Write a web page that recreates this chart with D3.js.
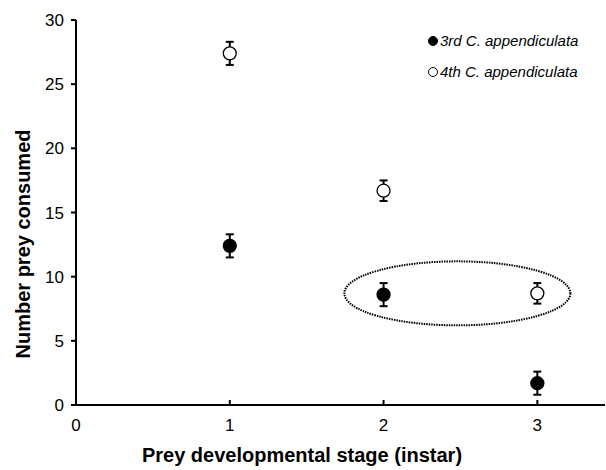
<!DOCTYPE html>
<html>
<head>
<meta charset="utf-8">
<script src="https://cdn.jsdelivr.net/npm/d3@7"></script>
<style>
  body { margin: 0; background: #fff; }
  text { font-family: "Liberation Sans", Arial, sans-serif; }
</style>
</head>
<body>
<svg id="chart" width="606" height="470"></svg>
<script>
// Data
const stages = [1, 2, 3];
const third = [12.4, 8.6, 1.7];
const thirdErr = [0.9, 0.9, 0.9];
const fourth = [27.4, 16.7, 8.7];
const fourthErr = [0.9, 0.8, 0.8];
const yTicks = [0, 5, 10, 15, 20, 25, 30];
const xTicks = [0, 1, 2, 3];

const svg = d3.select("#chart");

const xScale = d3.scaleLinear().domain([0, 3.44]).range([76, 605]);
const yScale = d3.scaleLinear().domain([0, 30]).range([405, 20]);

// Y axis
svg.append("line")
    .attr("x1", 76).attr("x2", 76)
    .attr("y1", yScale(30)).attr("y2", yScale(0))
    .attr("stroke", "#000").attr("stroke-width", 2);
svg.selectAll(".ytick")
    .data(yTicks)
    .enter().append("line")
    .attr("x1", 71).attr("x2", 76)
    .attr("y1", d => yScale(d)).attr("y2", d => yScale(d))
    .attr("stroke", "#000").attr("stroke-width", 2);
svg.selectAll(".ylab")
    .data(yTicks)
    .enter().append("text")
    .attr("x", 64)
    .attr("y", d => yScale(d) + 6)
    .attr("text-anchor", "end")
    .attr("font-size", 17)
    .text(d => d);

// X axis
svg.append("line")
    .attr("x1", 75).attr("x2", 605)
    .attr("y1", yScale(0)).attr("y2", yScale(0))
    .attr("stroke", "#000").attr("stroke-width", 2);
svg.selectAll(".xtick")
    .data(xTicks.slice(1))
    .enter().append("line")
    .attr("x1", d => xScale(d)).attr("x2", d => xScale(d))
    .attr("y1", yScale(0)).attr("y2", yScale(0) - 5)
    .attr("stroke", "#000").attr("stroke-width", 2);
svg.selectAll(".xlab")
    .data(xTicks)
    .enter().append("text")
    .attr("x", d => xScale(d))
    .attr("y", 431)
    .attr("text-anchor", "middle")
    .attr("font-size", 17)
    .text(d => d);

// Axis titles
svg.append("text")
    .attr("x", 302).attr("y", 462)
    .attr("text-anchor", "middle")
    .attr("font-size", 20).attr("font-weight", "bold")
    .text("Prey developmental stage (instar)");
svg.append("text")
    .attr("transform", "translate(30,244) rotate(-90)")
    .attr("text-anchor", "middle")
    .attr("font-size", 20).attr("font-weight", "bold")
    .text("Number prey consumed");

// Ellipse annotation
svg.append("ellipse")
    .attr("cx", xScale(2.48)).attr("cy", yScale(8.7))
    .attr("rx", 113).attr("ry", 32)
    .attr("fill", "none")
    .attr("stroke", "#000").attr("stroke-width", 2)
    .attr("stroke-dasharray", "1.5,1");

// Series
function drawSeries(vals, errs, fill) {
    const g = svg.append("g");
    vals.forEach((v, i) => {
        const cx = xScale(stages[i]);
        const top = yScale(v + errs[i]);
        const bot = yScale(v - errs[i]);
        g.append("line").attr("x1", cx).attr("x2", cx).attr("y1", top).attr("y2", bot)
            .attr("stroke", "#000").attr("stroke-width", 2);
        [top, bot].forEach(yy => {
            g.append("line").attr("x1", cx - 4).attr("x2", cx + 4).attr("y1", yy).attr("y2", yy)
                .attr("stroke", "#000").attr("stroke-width", 2);
        });
        g.append("circle").attr("cx", cx).attr("cy", yScale(v)).attr("r", 6.5)
            .attr("fill", fill).attr("stroke", "#000").attr("stroke-width", 1.3);
    });
}
drawSeries(third, thirdErr, "#000");
drawSeries(fourth, fourthErr, "#fff");

// Legend
const legend = [
    { label: "3rd C. appendiculata", fill: "#000", y: 41 },
    { label: "4th C. appendiculata", fill: "#fff", y: 72 }
];
legend.forEach(l => {
    svg.append("circle").attr("cx", 433).attr("cy", l.y).attr("r", 4.5)
        .attr("fill", l.fill).attr("stroke", "#000").attr("stroke-width", 1);
    svg.append("text").attr("x", 440).attr("y", l.y + 5)
        .attr("font-size", 15).attr("font-style", "italic")
        .text(l.label);
});
</script>
</body>
</html>
